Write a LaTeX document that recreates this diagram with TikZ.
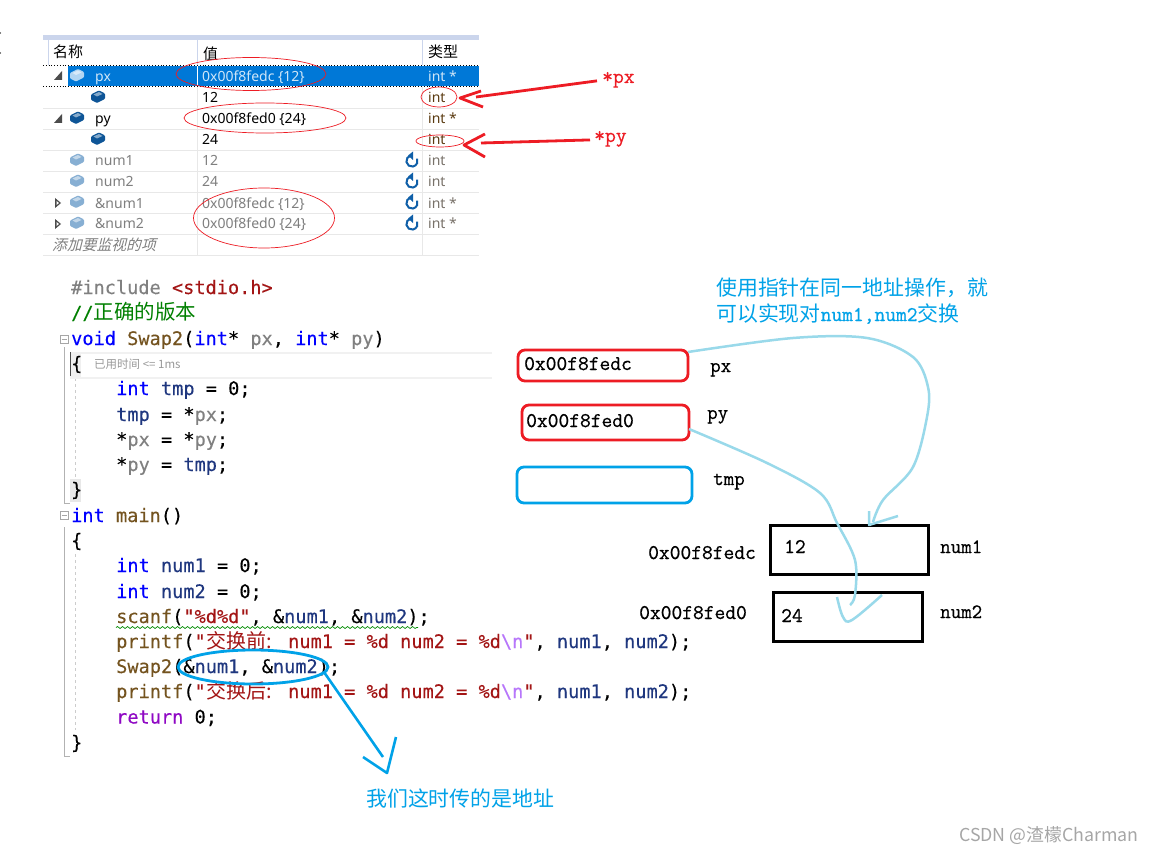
\documentclass[tikz,border=0pt]{standalone}
\usepackage{fontspec}
\usetikzlibrary{arrows.meta,decorations.pathmorphing,shapes.geometric}
\newfontfamily\codefont[FakeBold=0.2]{DejaVu Sans Mono}
\newfontfamily\uifont{Noto Sans}
\newfontfamily\cjkf{Noto Sans CJK SC}
\newfontfamily\cjkslant[RawFeature={slant=0.25}]{Noto Sans CJK SC}
\newfontfamily\serf[FakeBold=0.6]{Latin Modern Mono}
\definecolor{kw}{HTML}{0000FF}
\definecolor{var}{HTML}{1F377F}
\definecolor{fn}{HTML}{74531F}
\definecolor{str}{HTML}{A31515}
\definecolor{par}{HTML}{808080}
\definecolor{cmt}{HTML}{008000}
\definecolor{ret}{HTML}{8F08C4}
\definecolor{esc}{HTML}{B776FB}
\definecolor{inkred}{HTML}{ED1C24}
\definecolor{inkblue}{HTML}{00A2E8}
\definecolor{inklight}{HTML}{99D9EA}
\definecolor{sel}{HTML}{0078D7}
\definecolor{seltext}{HTML}{CFE6F8}
\definecolor{grid}{HTML}{E8E8E8}
\definecolor{band}{HTML}{CBD5EC}
\definecolor{dim}{HTML}{7F7F7F}
\definecolor{ty}{HTML}{5A3A10}
\definecolor{iconblue}{HTML}{0F5FA8}
\newcommand{\cs}[2]{\textcolor{#1}{#2}}
\newcommand{\ccjk}[1]{{\cjkf\fontsize{20.5}{22}\selectfont #1}}
\tikzset{
  code/.style={anchor=base west,inner sep=0pt,font=\codefont\fontsize{18.6}{20}\selectfont},
  ui/.style={anchor=base west,inner sep=0pt,font=\uifont\fontsize{14}{16}\selectfont},
  uicjk/.style={anchor=base west,inner sep=0pt,font=\cjkf\fontsize{15}{16}\selectfont},
  ser/.style={anchor=base west,inner sep=0pt,font=\serf\fontsize{20.9}{22}\selectfont},
  serlab/.style={anchor=base west,inner sep=0pt,font=\serf\fontsize{20.4}{22}\selectfont},
  redlab/.style={anchor=base west,inner sep=0pt,text=inkred,font=\serf\fontsize{21}{22}\selectfont},
  note/.style={anchor=base west,inner sep=0pt,text=inkblue,font=\cjkf\fontsize{20.9}{22}\selectfont},
  redth/.style={draw=inkred,line width=0.7pt,ellipse,inner sep=0pt,fill=none},
  memred/.style={draw=inkred,line width=2.8pt,rounded corners=7pt},
  memblue/.style={draw=inkblue,line width=2.8pt,rounded corners=7pt},
  membox/.style={draw=black,line width=3pt},
  hand/.style={draw=inkred,line width=2.8pt,line join=round},
  handb/.style={draw=inkblue,line width=2.6pt,line join=round},
  handl/.style={draw=inklight,line width=2.5pt,line join=round},
}
\newcommand{\cube}[3]{\fill[#3,rounded corners=1pt] (#1-7,#2-2.5) -- (#1+1,#2-6.5) -- (#1+7,#2-3.5) -- (#1+7,#2+2) -- (#1-1,#2+6) -- (#1-7,#2+3) -- cycle;
  \fill[white,opacity=.5] (#1-4.5,#2-2.5) -- (#1+1,#2-5) -- (#1+4.5,#2-3) -- (#1-1,#2-.5) -- cycle;}
\newcommand{\refreshicon}[2]{\draw[iconblue,line width=2pt] (#1-1,#2-5.5) arc[start angle=-100,end angle=-385,radius=5.6];
  \fill[iconblue] (#1-4,#2-5.5) -- (#1+1,#2-9.5) -- (#1+1,#2-1) -- cycle;}
\begin{document}
\begin{tikzpicture}[x=1pt,y=-1pt]
\useasboundingbox (0,0) rectangle (1156,853);
\fill[white] (0,0) rectangle (1156,853);
\fill (0.5,33) circle (.7); \fill (0.5,53) circle (.7);
% --- watch table
\fill[band] (43,35) rectangle (479,40);
\fill[sel] (68,66) rectangle (479,86);
\draw[black,dotted,line width=.8pt] (43,65.5) -- (479,65.5) (43,86.5) -- (479,86.5);
\foreach \y in {108,129,150,171,192,213,234,255} \draw[grid,line width=.8pt] (43,\y) -- (479,\y);
\draw[band,line width=.8pt] (48,40) -- (48,65) (197,40) -- (197,65) (422,40) -- (422,65);
\draw[grid,line width=.8pt] (197,87) -- (197,255) (422,87) -- (422,255);
\draw[white,line width=.6pt] (197,66) -- (197,86);
\node[uicjk] (h1) at (53,58) {名称};
\node[uicjk] (h2) at (203,60) {值};
\node[uicjk] (h3) at (428,58) {类型};
% triangles
\fill[black!70] (62,71) -- (62,80) -- (54,80) -- cycle;
\fill[black!70] (62,114) -- (62,123) -- (54,123) -- cycle;
\foreach \y in {203,224}{\fill[black!70] (55,\y-5) -- (61,\y) -- (55,\y+5) -- cycle; \fill[white] (56.5,\y-2) -- (59,\y) -- (56.5,\y+2) -- cycle;}
% cubes
\cube{77}{75.5}{sel!30!white}
\cube{98}{97}{iconblue!90!black}
\cube{77}{118}{iconblue!90!black}
\cube{98}{139}{iconblue!90!black}
\cube{77}{160}{iconblue!50!white}
\cube{77}{181}{iconblue!50!white}
\cube{77}{202}{iconblue!50!white}
\cube{77}{223}{iconblue!50!white}
% rows
\node[ui,text=seltext] (n1) at (95,81.5) {px};
\node[ui,text=seltext] (v1) at (202,81.5) {0x00f8fedc \{12\}};
\node[ui,text=seltext] (t1) at (428,81.5) {int *};
\node[ui] (v2) at (202,103) {12};
\node[ui,text=ty] (t2) at (428,103) {int};
\node[ui] (n3) at (95,124) {py};
\node[ui] (v3) at (202,124) {0x00f8fed0 \{24\}};
\node[ui,text=ty] (t3) at (428,124) {int *};
\node[ui] (v4) at (202,145) {24};
\node[ui,text=ty] (t4) at (428,145) {int};
\node[ui,text=dim] (n5) at (95,166) {num1};
\node[ui,text=dim] (v5) at (202,166) {12};
\node[ui,text=dim!80!ty] (t5) at (428,166) {int};
\node[ui,text=dim] (n6) at (95,187) {num2};
\node[ui,text=dim] (v6) at (202,187) {24};
\node[ui,text=dim!80!ty] (t6) at (428,187) {int};
\node[ui,text=dim] (n7) at (95,208) {\&num1};
\node[ui,text=dim] (v7) at (202,208) {0x00f8fedc \{12\}};
\node[ui,text=dim!80!ty] (t7) at (428,208) {int *};
\node[ui,text=dim] (n8) at (95,229) {\&num2};
\node[ui,text=dim] (v8) at (202,229) {0x00f8fed0 \{24\}};
\node[ui,text=dim!80!ty] (t8) at (428,229) {int *};
\node[anchor=base west,inner sep=0pt,text=dim,font=\cjkslant\fontsize{14.8}{16}\selectfont] (add) at (52,250) {添加要监视的项};
\refreshicon{412}{161}\refreshicon{412}{182}\refreshicon{412}{203}\refreshicon{412}{224}
% red annotations
\node[redth,minimum width=150pt,minimum height=33pt] (e1) at (251,74) {};
\node[redth,minimum width=162pt,minimum height=30pt] (e2) at (265,118) {};
\node[redth,minimum width=141pt,minimum height=60pt] (e3) at (264,218) {};
\node[redth,minimum width=36pt,minimum height=20pt] (e4) at (439,97) {};
\node[redth,minimum width=48pt,minimum height=12pt] (e5) at (440,141) {};
\node[redlab] (lpx) at (602,83) {*px};
\node[redlab] (lpy) at (594,142) {*py};
\coordinate (a1e) at (476,97);
\coordinate (a2e) at (481,143);
\draw[hand] ([xshift=-5pt,yshift=-1pt]lpx.west) -- (a1e);
\draw[hand] (481,91) -- (460,98) -- (483,107);
\draw[hand] ([xshift=-4pt,yshift=-1pt]lpy.west) -- (a2e);
\draw[hand] (485,134) -- (464,145) -- (485,157);
% --- code gutter
\fill[gray!12] (70,352) rectangle (81,378);
\fill[gray!18] (70,479) rectangle (81,502);
\draw[gray!60,line width=.8pt] (64,347) -- (64,503) -- (70,503);
\draw[gray!60,line width=.8pt] (64,527) -- (64,756) -- (70,756);
\foreach \y in {339,515}{\draw[gray!70,line width=.7pt] (60,\y-4) rectangle (68,\y+4); \draw[gray!70,line width=.7pt] (61.5,\y) -- (66.5,\y);}
\draw[gray!40,dashed,line width=.7pt] (75,378) -- (75,478);
\draw[gray!40,dashed,line width=.7pt] (75,554) -- (75,730);
\fill[grid!60] (70,351.5) rectangle (492,353.5);
\fill[grid!60] (70,376.5) rectangle (492,378.5);
\draw[black!70,line width=1.2pt] (70.5,352) -- (70.5,376);
% --- code
\node[code] (c1) at (71,294) {\cs{par}{\#include} \cs{str}{<stdio.h>}};
\node[code] (c2) at (71,319.5) {\cs{cmt}{//\ccjk{正确的版本}}};
\node[code] (c3) at (71,345) {\cs{kw}{void} \cs{fn}{Swap2}(\cs{kw}{int}* \cs{par}{px}, \cs{kw}{int}* \cs{par}{py})};
\node[code] (c4) at (71,370) {\{};
\node[anchor=base west,inner sep=0pt,text=gray!80,font=\cjkf\fontsize{11.5}{12}\selectfont] (c4b) at (94,368) {已用时间 <= 1ms};
\node[code] (c5) at (116,395) {\cs{kw}{int} \cs{var}{tmp} = 0;};
\node[code] (c6) at (116,421) {\cs{var}{tmp} = *\cs{par}{px};};
\node[code] (c7) at (116,446) {*\cs{par}{px} = *\cs{par}{py};};
\node[code] (c8) at (116,471) {*\cs{par}{py} = \cs{var}{tmp};};
\node[code] (c9) at (71,496) {\}};
\node[code] (c10) at (71,522) {\cs{kw}{int} \cs{fn}{main}()};
\node[code] (c11) at (71,547) {\{};
\node[code] (c12) at (116,572) {\cs{kw}{int} \cs{var}{num1} = 0;};
\node[code] (c13) at (116,598) {\cs{kw}{int} \cs{var}{num2} = 0;};
\node[code] (c14) at (116,623) {\cs{fn}{scanf}(\cs{str}{"\%d\%d"}, \&\cs{var}{num1}, \&\cs{var}{num2});};
\node[code] (c15a) at (116,648) {\cs{fn}{printf}(\cs{str}{"}};
\node[anchor=base west,inner sep=0pt,text=str,font=\cjkf\fontsize{20}{22}\selectfont] (c15b) at (206,648) {交换前:};
\node[code] (c15c) at (288,648) {\cs{str}{num1 = \%d num2 = \%d}\cs{esc}{\textbackslash n}\cs{str}{"}, \cs{var}{num1}, \cs{var}{num2});};
\node[code] (c16) at (116,673) {\cs{fn}{Swap2}(\&\cs{var}{num1}, \&\cs{var}{num2});};
\node[code] (c17a) at (116,698) {\cs{fn}{printf}(\cs{str}{"}};
\node[anchor=base west,inner sep=0pt,text=str,font=\cjkf\fontsize{20}{22}\selectfont] (c17b) at (206,698) {交换后:};
\node[code] (c17c) at (288,698) {\cs{str}{num1 = \%d num2 = \%d}\cs{esc}{\textbackslash n}\cs{str}{"}, \cs{var}{num1}, \cs{var}{num2});};
\node[code] (c18) at (116,723.5) {\cs{ret}{return} 0;};
\node[code] (c19) at (71,749) {\}};
\draw[green!55!black,line width=.7pt,decorate,decoration={snake,amplitude=1pt,segment length=5pt}] (116,627.5) -- (418,627.5);
% --- memory diagram
\node[memred,minimum width=170pt,minimum height=31pt,inner sep=0pt] (bpx) at (603,365.5) {};
\node[memred,minimum width=167pt,minimum height=35pt,inner sep=0pt] (bpy) at (605.5,422.5) {};
\node[memblue,minimum width=175pt,minimum height=36pt,inner sep=0pt] (btmp) at (604.5,485) {};
\node[membox,minimum width=158pt,minimum height=49pt,inner sep=0pt] (bn1) at (849,549.5) {};
\node[membox,minimum width=149pt,minimum height=49pt,inner sep=0pt] (bn2) at (847.5,616.5) {};
\node[ser] (tpx) at (524,370) {0x00f8fedc};
\node[ser] (tpy) at (526,427) {0x00f8fed0};
\node[serlab] (lp1) at (710,372) {px};
\node[serlab] (lp2) at (707,419) {py};
\node[serlab] (lp3) at (713,485) {tmp};
\node[ser] (ad1) at (648,559) {0x00f8fedc};
\node[ser] (ad2) at (639,619) {0x00f8fed0};
\node[ser] (v12) at (784,553) {12};
\node[ser] (v24) at (781,622) {24};
\node[serlab] (ln1) at (940,553) {num1};
\node[serlab] (ln2) at (940,618) {num2};
\node[note] (nt1) at (716,295) {使用指针在同一地址操作，就};
\node[note] (nt2) at (716,321) {可以实现对{\serf num1,num2}交换};
\node[note] (nt3) at (366,806) {我们这时传的是地址};
% --- hand connectors
\draw[handl] plot[smooth,tension=.55] coordinates {(688,352) (793,338) (867,338) (913,357) (928,387) (927,417) (913,467) (883,500) (873,522)};
\draw[handl] (869,511) -- (869,525) -- (898,516);
\draw[handl] plot[smooth,tension=.55] coordinates {(689,429) (767,463) (820,493) (837,523) (855,560) (855,595) (850,605)};
\draw[handl] plot[smooth,tension=.6] coordinates {(837,597) (843,617) (852,620) (882,595)};
% --- blue call annotation
\node[draw=inkblue,line width=2.8pt,ellipse,inner sep=0pt,minimum width=150pt,minimum height=34pt] (ecall) at (253,667) {};
\coordinate (tip) at (383,757);
\draw[handb] (ecall.-5) -- (tip);
\draw[handb] (363,757) -- (387,773) -- (396,737);
% --- watermark
\node[anchor=base west,inner sep=0pt,text=gray!70,font=\cjkf\fontsize{17.8}{19}\selectfont] (wm) at (959,841) {CSDN @渣檬Charman};
\end{tikzpicture}
\end{document}
